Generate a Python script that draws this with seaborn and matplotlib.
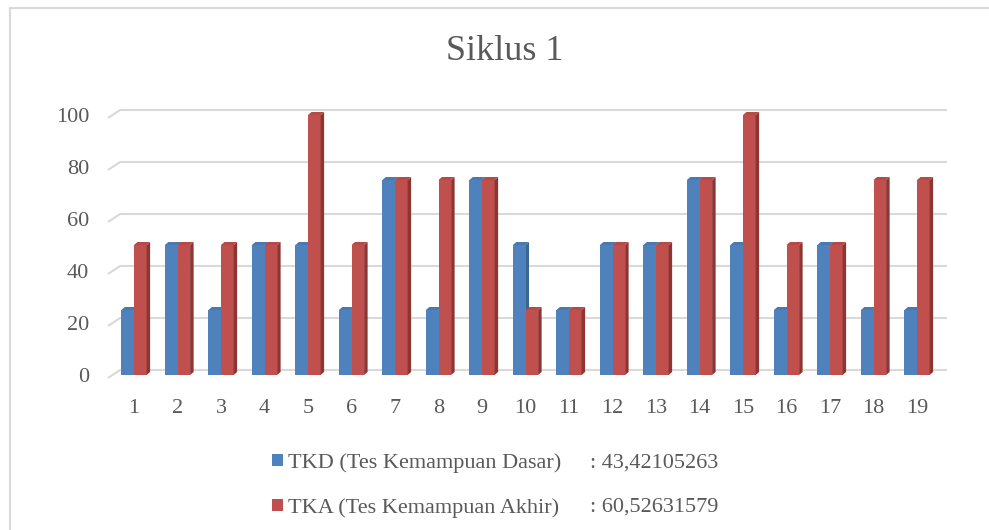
import numpy as np
import pandas as pd
import matplotlib.pyplot as plt
import matplotlib.patches as mpatches
import seaborn as sns

# nilai per siswa, siklus 1
siswa = [str(i) for i in range(1, 20)]
tkd = [25, 50, 25, 50, 50, 25, 75, 25, 75, 50, 25, 50, 50, 75, 50, 25, 50, 25, 25]
tka = [50, 50, 50, 50, 100, 50, 75, 75, 75, 25, 25, 50, 50, 75, 100, 50, 50, 75, 75]
seri = ['TKD (Tes Kemampuan Dasar)', 'TKA (Tes Kemampuan Akhir)']
rata = [': 43,42105263', ': 60,52631579']
yticks = [0, 20, 40, 60, 80, 100]

blue, red = '#4F81BD', '#C0504D'
side = {blue: '#3B6493', red: '#8C3533'}
top = {blue: '#4A78B0', red: '#B54A47'}
grey = '#595959'

df = pd.DataFrame({'siswa': siswa * 2,
                   'nilai': tkd + tka,
                   'tes': [seri[0]] * len(siswa) + [seri[1]] * len(siswa)})

sns.set_style('white')
plt.rcParams['font.family'] = ['Liberation Serif', 'DejaVu Serif']

W, H = 989, 530
fig = plt.figure(figsize=(W / 100, H / 100), dpi=100)
ax = fig.add_axes([108 / W, 1 - 375 / H, (947 - 108) / W, (375 - 115) / H])

sns.barplot(data=df, x='siswa', y='nilai', hue='tes', palette=[blue, red],
            width=0.58, ax=ax, saturation=1, zorder=2, linewidth=0)

px_x = 43.5   # pixels per category
px_y = 2.6    # pixels per unit
ax.set_xlim((108 - 134) / px_x, (947 - 134) / px_x)
ax.set_ylim(0, 100)

# fake 3d faces on each bar
dx, dy = 3.5 / px_x, 3 / px_y
for bar in ax.patches:
    x0, y0 = bar.get_x(), bar.get_y()
    x1, y1 = x0 + bar.get_width(), y0 + bar.get_height()
    c = bar.get_facecolor()
    col = blue if c[2] > 0.6 else red
    z = 1.5 if col == blue else 2.5
    ax.add_patch(mpatches.Polygon([(x1, y0), (x1 + dx, y0 + dy), (x1 + dx, y1 + dy), (x1, y1)],
                                  closed=True, color=side[col], lw=0, zorder=z, clip_on=False))
    ax.add_patch(mpatches.Polygon([(x0, y1), (x1, y1), (x1 + dx, y1 + dy), (x0 + dx, y1 + dy)],
                                  closed=True, color=top[col], lw=0, zorder=z, clip_on=False))

# gridlines on the back wall
xl = ax.get_xlim()
for v in yticks:
    ax.plot([xl[0], xl[0] + 12 / px_x, xl[1]],
            [v - 3 / px_y, v + 5 / px_y, v + 5 / px_y],
            color='#D9D9D9', lw=1.5, zorder=0, clip_on=False, solid_capstyle='butt')

ax.set_xticks(range(len(siswa)))
ax.set_xticklabels(siswa)
ax.set_yticks(yticks)
ax.tick_params(axis='both', length=0, labelsize=16, colors=grey)
ax.tick_params(axis='x', pad=17)
ax.tick_params(axis='y', pad=13.5)
ax.set_xlabel('')
ax.set_ylabel('')
sns.despine(ax=ax, left=True, bottom=True)

handles, labels = ax.get_legend_handles_labels()
ax.get_legend().remove()
leg = fig.legend(handles, seri, loc='upper left', bbox_to_anchor=(272 / W, 1 - 453 / H),
                 frameon=False, fontsize=16, handlelength=0.5, handleheight=0.5,
                 handletextpad=0.23, labelspacing=1.14, borderpad=0, borderaxespad=0)
for t in leg.get_texts():
    t.set_color(grey)

for i, r in enumerate(rata):
    fig.text(590 / W, 1 - (463 + 44 * i) / H, r, fontsize=16, color=grey, va='center')

fig.text(505 / W, 1 - 52 / H, 'Siklus 1', fontsize=26, color=grey, ha='center', va='center')

# chart border
fig.add_artist(mpatches.Rectangle((10 / W, -0.1), 1.2, 1 - 8 / H + 0.1,
                                  transform=fig.transFigure, fill=False,
                                  edgecolor='#D9D9D9', lw=1.5))

fig.savefig('out.png', dpi=100)
